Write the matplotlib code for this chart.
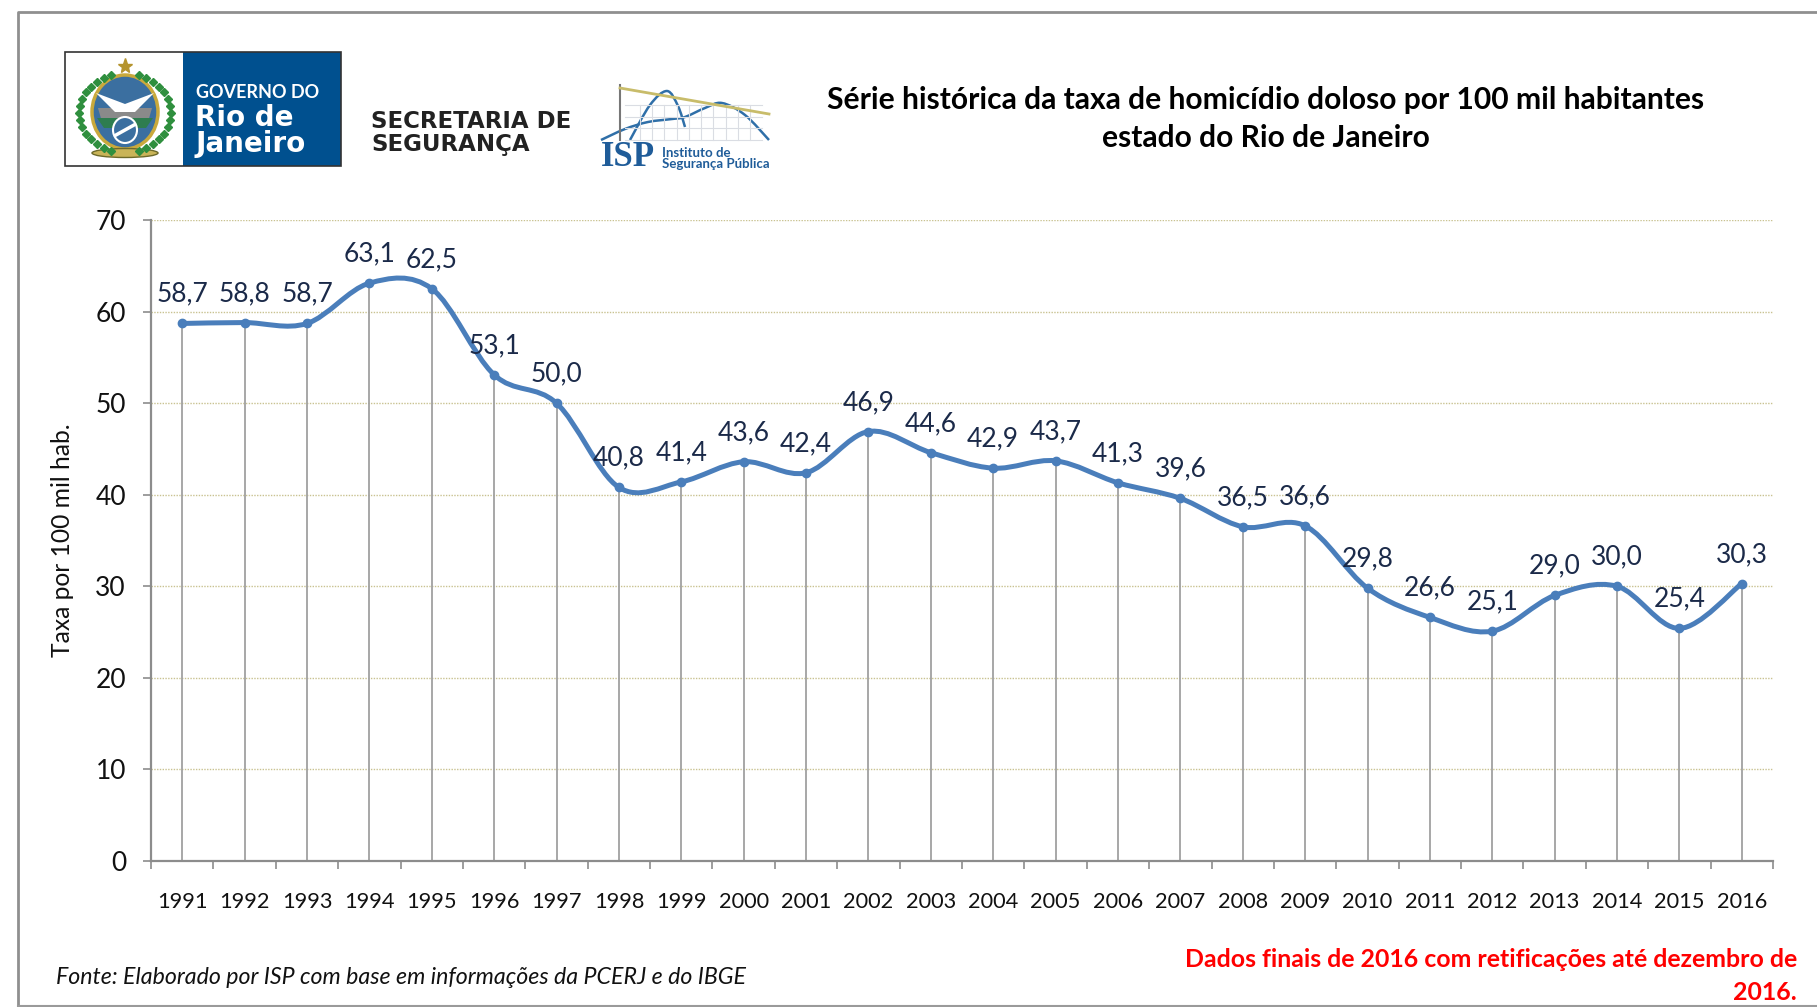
import numpy as np
import matplotlib
matplotlib.use("Agg")
import matplotlib.pyplot as plt
from matplotlib.path import Path
from matplotlib.patches import PathPatch, Rectangle, Ellipse, Polygon

plt.rcParams['font.family'] = ['Lato', 'DejaVu Sans']

years = list(range(1991, 2017))
rates = [58.7, 58.8, 58.7, 63.1, 62.5, 53.1, 50.0, 40.8, 41.4, 43.6, 42.4, 46.9, 44.6,
         42.9, 43.7, 41.3, 39.6, 36.5, 36.6, 29.8, 26.6, 25.1, 29.0, 30.0, 25.4, 30.3]
y_ticks = [0, 10, 20, 30, 40, 50, 60, 70]

title = "Série histórica da taxa de homicídio doloso por 100 mil habitantes\nestado do Rio de Janeiro"
y_label = "Taxa por 100 mil hab."
source = "Fonte: Elaborado por ISP com base em informações da PCERJ e do IBGE"
note = "Dados finais de 2016 com retificações até dezembro de\n2016."

W, H = 1817, 1007
BLUE = "#4A7EBB"
GREY = "#8C8C8C"


def smooth_path(xs, ys):
    # same kind of smoothing as the excel line: catmull-rom turned into beziers
    xs = np.asarray(xs, float)
    ys = np.asarray(ys, float)
    n = len(xs)
    verts = [(xs[0], ys[0])]
    codes = [Path.MOVETO]
    for i in range(n - 1):
        a = max(i - 1, 0)
        b = min(i + 2, n - 1)
        verts.append((xs[i] + (xs[i + 1] - xs[a]) / 6, ys[i] + (ys[i + 1] - ys[a]) / 6))
        verts.append((xs[i + 1] - (xs[b] - xs[i]) / 6, ys[i + 1] - (ys[b] - ys[i]) / 6))
        verts.append((xs[i + 1], ys[i + 1]))
        codes += [Path.CURVE4] * 3
    return Path(verts, codes)


fig = plt.figure(figsize=(W / 100, H / 100), dpi=100)

# overlay in pixel coordinates for the frame, logos and free text
bg = fig.add_axes([0, 0, 1, 1])
bg.set_xlim(0, W)
bg.set_ylim(H, 0)
bg.axis("off")

bg.plot([18, 18, W], [H, 12, 12], color="#8F8F8F", lw=2)
bg.plot([18, W], [1005.5, 1005.5], color="#9A9A9A", lw=1.5)

# state logo
bg.add_patch(Rectangle((183, 52), 158, 114, fc="#00508F", ec="none"))
bg.add_patch(Rectangle((65, 52), 276, 114, fc="none", ec="#333333", lw=1.2))
bg.text(196, 93, "GOVERNO DO", color="white", fontsize=13, fontweight="bold", va="center")
bg.text(195, 118, "Rio de", color="white", fontsize=20, fontweight="bold", va="center",
        family=["DejaVu Sans"])
bg.text(195, 144, "Janeiro", color="white", fontsize=20, fontweight="bold", va="center",
        family=["DejaVu Sans"])
bg.add_patch(Ellipse((125, 112), 66, 74, fc="#3B6FA0", ec="#C9A93C", lw=2.5))
bg.add_patch(Polygon([(98, 108), (152, 108), (148, 122), (102, 122)], fc="#8A8A8A", ec="none"))
bg.add_patch(Polygon([(96, 93), (125, 104), (154, 93), (135, 112), (115, 112)], fc="white", ec="none"))
bg.add_patch(Polygon([(97, 118), (153, 118), (146, 128), (104, 128)], fc="#2E7D4F", ec="none"))
bg.add_patch(Ellipse((125, 130), 24, 26, fc="#3B6FA0", ec="white", lw=1.5))
bg.plot([116, 134], [135, 125], color="white", lw=2.5)
bg.plot([125], [66], marker="*", ms=11, color="#B5942E")
t = np.linspace(-1.9, 1.9, 15)
for side in (-1, 1):
    bg.plot(125 + side * 46 * np.cos(t / 1.5), 113 + 40 * np.sin(t / 1.5), ls="none",
            marker="D", ms=4, color="#2F8F3E")
bg.add_patch(Ellipse((125, 153), 66, 9, fc="#C9B458", ec="#6E6A2A", lw=1))

bg.text(371, 122, "SECRETARIA DE", color="#222222", fontsize=16.5, fontweight="bold",
        family=["DejaVu Sans"], va="center")
bg.text(371, 144, "SEGURANÇA", color="#222222", fontsize=16.5, fontweight="bold",
        family=["DejaVu Sans"], va="center")

# ISP logo
for gx in np.linspace(640, 750, 10):
    bg.plot([gx, gx], [105, 140], color="#DADDE3", lw=0.8)
for gy in np.linspace(105, 140, 4):
    bg.plot([625, 762], [gy, gy], color="#DADDE3", lw=0.8)
bg.plot([620, 620], [85, 140], color="#777777", lw=1.5)
bg.plot([620, 769], [88, 114], color="#C8BC6A", lw=2)
bg.add_patch(PathPatch(smooth_path([630, 650, 667, 678, 685], [140, 105, 91, 106, 127]),
                       fc="none", ec="#2F6FA8", lw=1.8))
bg.add_patch(PathPatch(smooth_path([601, 625, 648, 672, 685, 705, 722, 745, 769],
                                   [140, 129, 122, 119, 117, 108, 103, 115, 140]),
                       fc="none", ec="#2F6FA8", lw=1.8))
bg.text(601, 158, "ISP", color="#1F5C99", fontsize=25, fontweight="bold",
        family=["Liberation Serif", "DejaVu Serif"], va="center")
bg.text(662, 153, "Instituto de", color="#1F5C99", fontsize=9.5, fontweight="bold", va="center")
bg.text(662, 164, "Segurança Pública", color="#1F5C99", fontsize=9.5, fontweight="bold", va="center")

bg.text(1266, 119, title, ha="center", va="center", fontsize=21.6, fontweight="bold",
        color="black", linespacing=1.42)
bg.text(56, 978, source, fontsize=16.7, fontstyle="italic", va="center", color="#111111")
bg.text(1797, 976, note, fontsize=17.9, fontweight="bold", color="#FF0000", ha="right",
        va="center", linespacing=1.55)
bg.text(63, 540, y_label, rotation=90, fontsize=17.7, ha="center", va="center", color="#111111")

# chart
ax = fig.add_axes([151 / W, 1 - 861 / H, (1773 - 151) / W, (861 - 220) / H])
ax.patch.set_alpha(0)
x = np.arange(len(years))
ax.set_xlim(-0.5, len(years) - 0.5)
ax.set_ylim(0, 70)

ax.yaxis.grid(True, color="#C9C291", lw=1, ls=(0, (1, 1)))
ax.set_axisbelow(True)
ax.vlines(x, 0, rates, color="#A0A0A0", lw=1.3, zorder=2)
ax.add_patch(PathPatch(smooth_path(x, rates), fc="none", ec=BLUE, lw=3.6, zorder=3, capstyle="round"))
ax.plot(x, rates, ls="none", marker="o", ms=6, color=BLUE, zorder=4)

for xi, v in zip(x, rates):
    ax.annotate(f"{v:.1f}".replace(".", ","), (xi, v), xytext=(0, 21), textcoords="offset points",
                ha="center", va="center", fontsize=19, color="#1B2A49", zorder=5)

for s in ("top", "right"):
    ax.spines[s].set_visible(False)
for s in ("left", "bottom"):
    ax.spines[s].set_color(GREY)
    ax.spines[s].set_linewidth(1.6)

ax.set_yticks(y_ticks)
ax.tick_params(axis="y", length=6, width=1.2, color=GREY, labelsize=19, pad=12, labelcolor="#111111")
# ticks sit between categories, labels under them
ax.set_xticks(np.arange(len(years) + 1) - 0.5)
ax.set_xticklabels([])
ax.tick_params(axis="x", which="major", length=6, width=1.2, color=GREY)
ax.set_xticks(x, minor=True)
ax.set_xticklabels(years, minor=True)
ax.tick_params(axis="x", which="minor", length=0, labelsize=15.7, pad=22, labelcolor="#111111")

fig.savefig("out.png", dpi=100)
